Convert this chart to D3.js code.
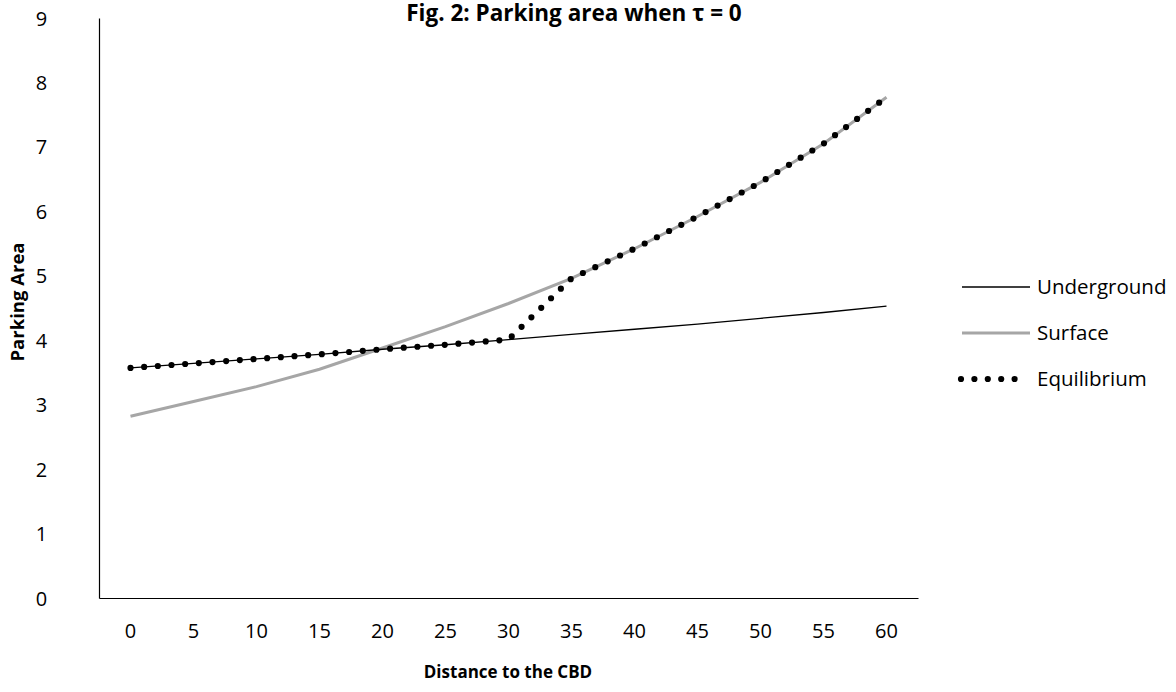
<!DOCTYPE html>
<html>
<head>
<meta charset="utf-8">
<script src="https://cdn.jsdelivr.net/npm/d3@7"></script>
<style>
  html, body { margin: 0; padding: 0; background: #fff; }
  svg { display: block; }
  text { font-family: "Open Sans", "Noto Sans", sans-serif; fill: #000; }
</style>
</head>
<body>
<script>
const categories = [0, 5, 10, 15, 20, 25, 30, 35, 40, 45, 50, 55, 60];
const underground = [3.57, 3.64, 3.71, 3.78, 3.86, 3.93, 4.01, 4.09, 4.17, 4.25, 4.34, 4.43, 4.53];
const surface     = [2.82, 3.05, 3.28, 3.55, 3.88, 4.21, 4.57, 4.96, 5.42, 5.92, 6.45, 7.05, 7.77];
const equilibrium = [3.57, 3.64, 3.71, 3.78, 3.86, 3.93, 4.01, 4.96, 5.42, 5.92, 6.45, 7.05, 7.77];
const yTicks = [0, 1, 2, 3, 4, 5, 6, 7, 8, 9];
const seriesNames = ["Underground", "Surface", "Equilibrium"];

const W = 1176, H = 692;
const plot = { left: 99, right: 918, top: 18, bottom: 598 };

const svg = d3.select("body").append("svg").attr("width", W).attr("height", H);

const x = d3.scaleBand().domain(categories).range([plot.left, plot.right]).padding(0);
const y = d3.scaleLinear().domain([0, 9]).range([plot.bottom, plot.top]);
const cx = v => x(v) + x.bandwidth() / 2;

// Axes
const yAxis = d3.axisLeft(y).tickValues(yTicks).tickSize(0).tickFormat(d3.format("d"));
const gy = svg.append("g").attr("transform", `translate(${plot.left},0)`).call(yAxis);
gy.select(".domain").attr("stroke", "#000").attr("stroke-width", 1.2);
gy.selectAll("text").attr("font-size", 20).attr("text-anchor", "middle")
  .attr("x", 41.5 - plot.left).attr("dy", "0.35em").style("font-family", "'Open Sans', sans-serif");

const xAxis = d3.axisBottom(x).tickSize(0).tickPadding(26);
const gx = svg.append("g").attr("transform", `translate(0,${plot.bottom})`).call(xAxis);
gx.select(".domain").attr("stroke", "#000").attr("stroke-width", 1.2);
gx.selectAll("text").attr("font-size", 20).style("font-family", "'Open Sans', sans-serif");

// Lines
const line = d3.line().x((d, i) => cx(categories[i])).y(d => y(d));

svg.append("path").datum(surface).attr("d", line)
  .attr("fill", "none").attr("stroke", "#a6a6a6").attr("stroke-width", 3);
svg.append("path").datum(underground).attr("d", line)
  .attr("fill", "none").attr("stroke", "#000").attr("stroke-width", 1.3);
svg.append("path").datum(equilibrium).attr("d", line)
  .attr("fill", "none").attr("stroke", "#000").attr("stroke-width", 6.2)
  .attr("stroke-linecap", "round").attr("stroke-dasharray", "0,13.7");

// Titles
svg.append("text").attr("x", 574).attr("y", 21).attr("text-anchor", "middle")
  .attr("font-size", 22.5).attr("font-weight", "bold").text("Fig. 2: Parking area when τ = 0");
svg.append("text").attr("x", 508).attr("y", 678).attr("text-anchor", "middle")
  .attr("font-size", 17).attr("font-weight", "bold").text("Distance to the CBD");
svg.append("text").attr("transform", "translate(24,302) rotate(-90)").attr("text-anchor", "middle")
  .attr("font-size", 18.5).attr("font-weight", "bold").text("Parking Area");

// Legend
const legendY = [287, 333, 379];
const lg = svg.append("g");
seriesNames.forEach((name, i) => {
  const yy = legendY[i];
  const l = lg.append("line").attr("x1", 962).attr("x2", 1030).attr("y1", yy).attr("y2", yy);
  if (i === 0) l.attr("stroke", "#000").attr("stroke-width", 1.3);
  if (i === 1) l.attr("stroke", "#a6a6a6").attr("stroke-width", 3);
  if (i === 2) l.attr("x1", 961).attr("x2", 1028).attr("stroke", "#000").attr("stroke-width", 6.2)
    .attr("stroke-linecap", "round").attr("stroke-dasharray", "0,13.4");
  lg.append("text").attr("x", 1037).attr("y", yy).attr("dy", "0.35em")
    .attr("font-size", 20.5).text(name);
});
</script>
</body>
</html>
